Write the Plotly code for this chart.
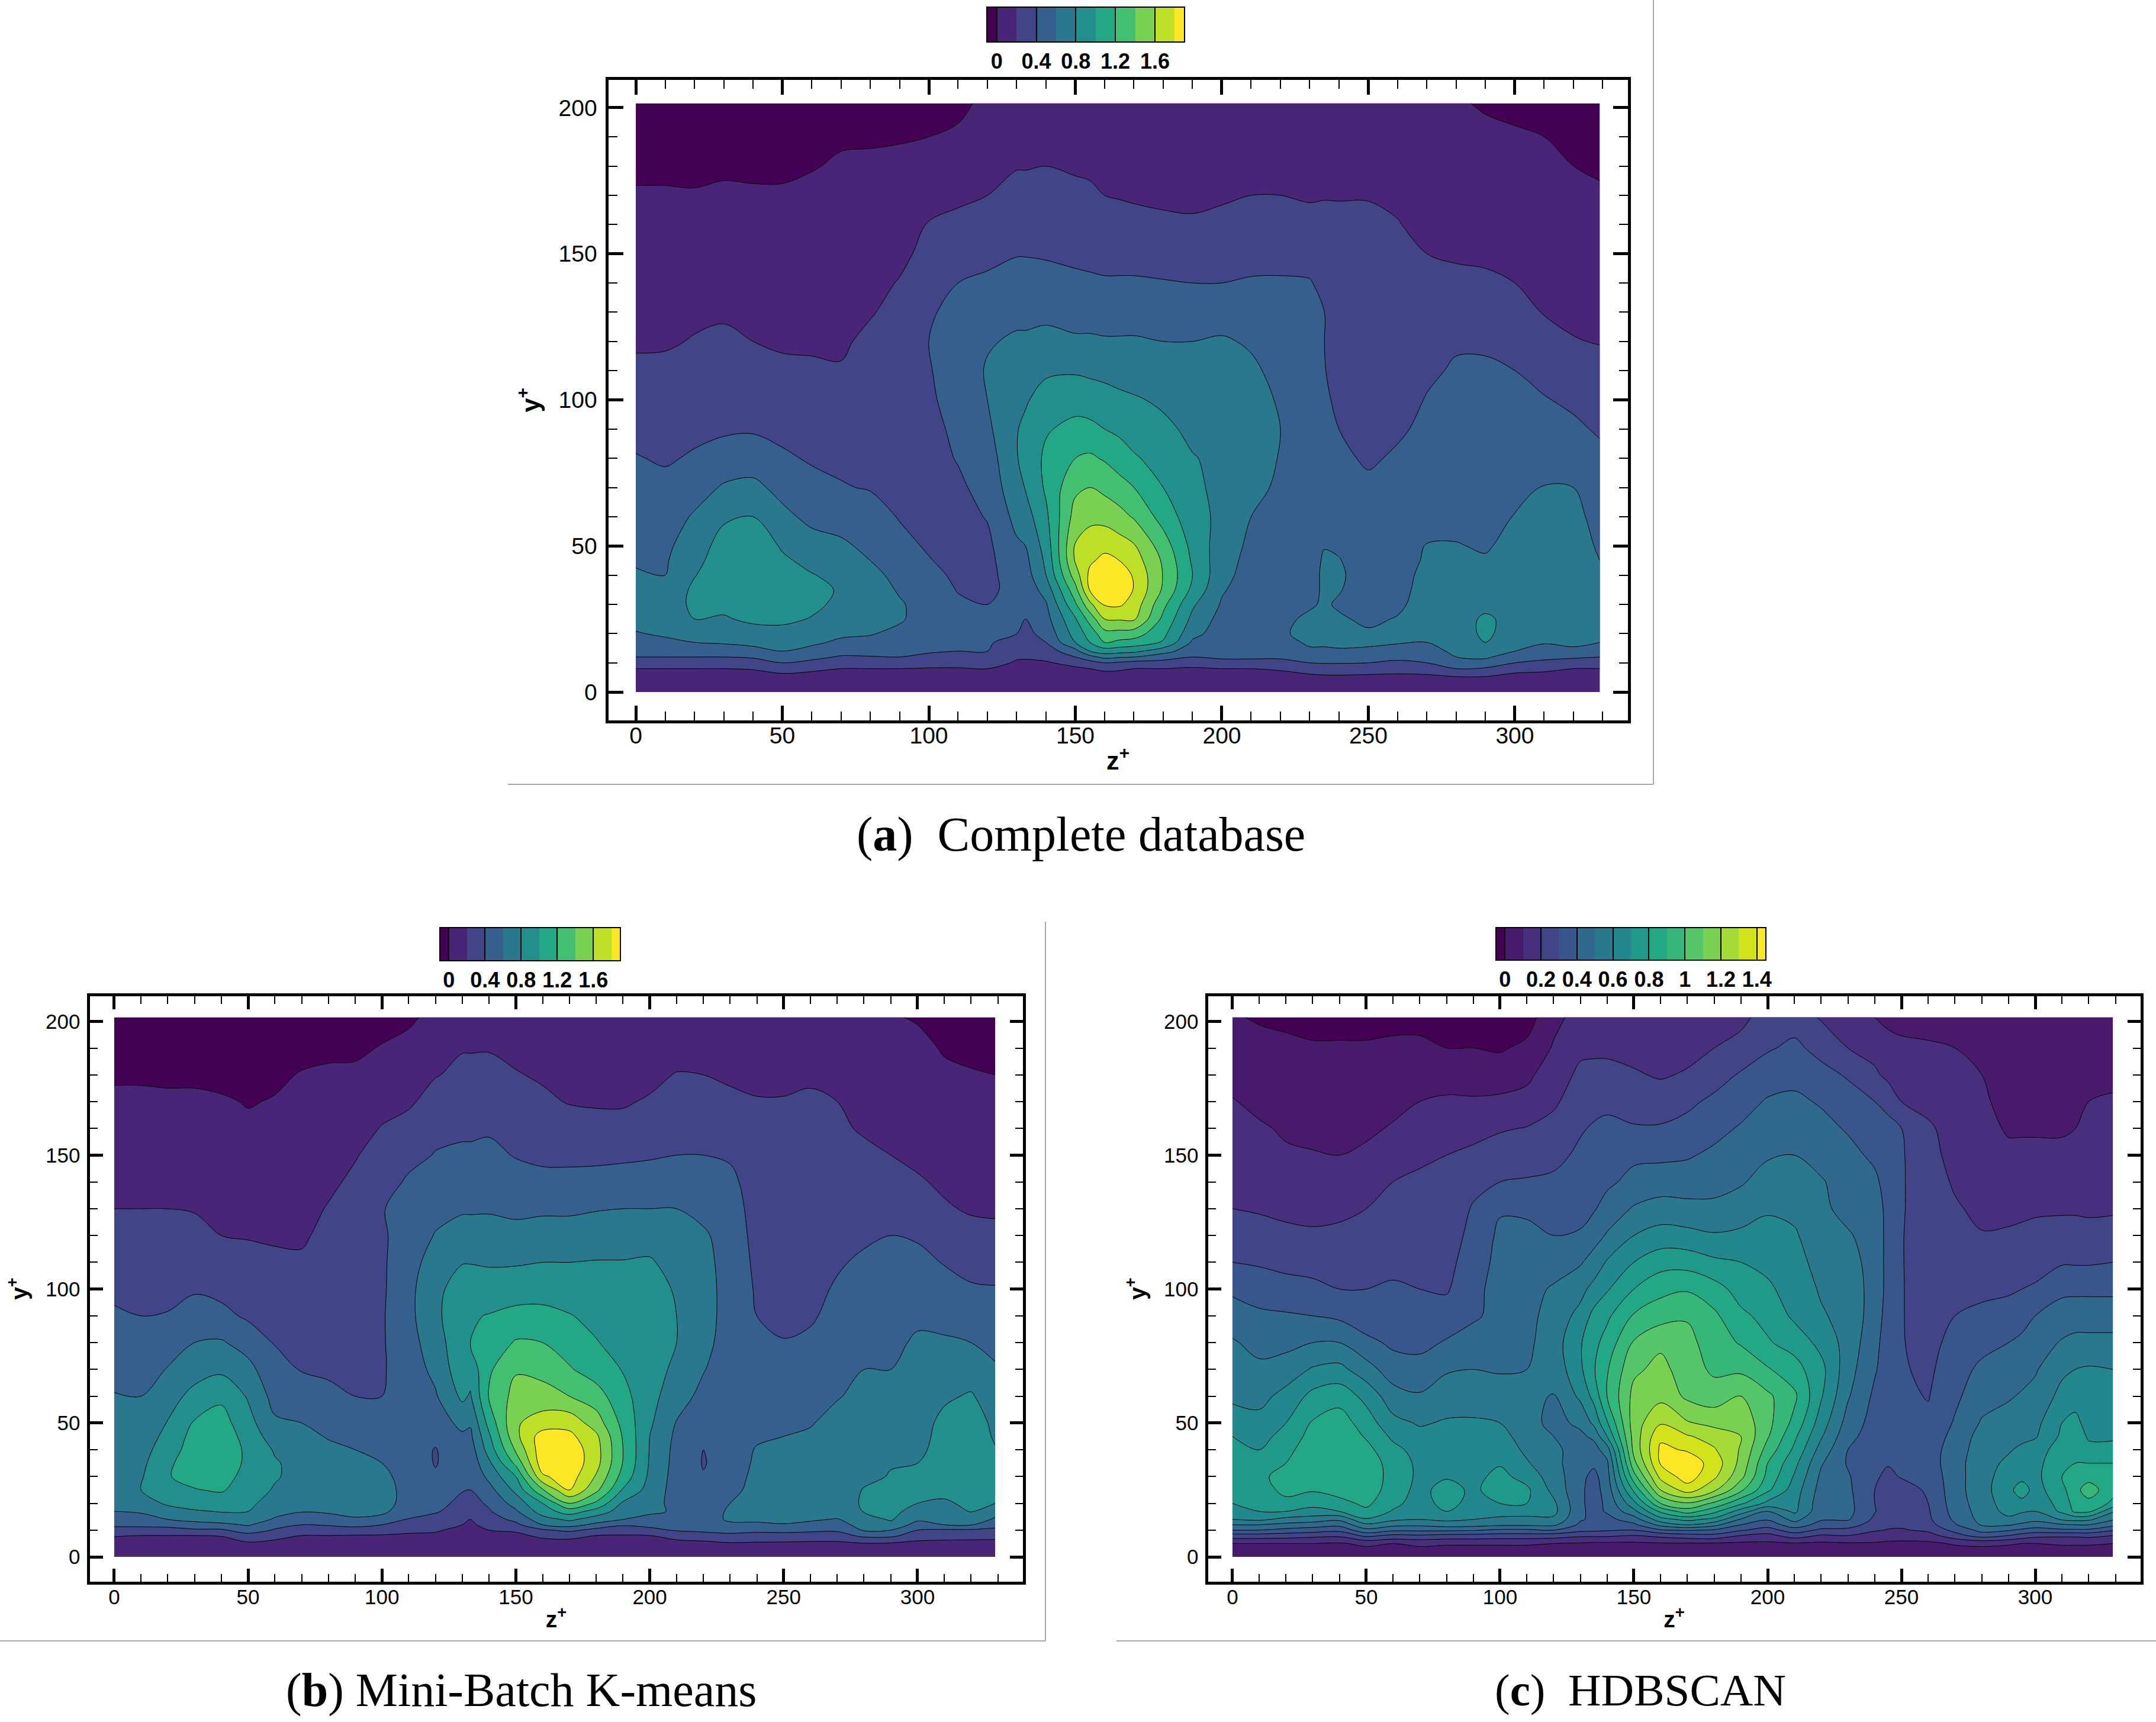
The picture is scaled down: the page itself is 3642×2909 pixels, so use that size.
#!/usr/bin/env python
"""
Three contour panels of y+ against z+ with their colour bars and captions.
"""

import plotly.graph_objects as go

WIDTH = 3642
HEIGHT = 2909

# Wall-normal rows shared by the three tables
y_rows = [0, 5, 8, 10, 12, 14, 17, 20, 25, 30, 35, 40, 45, 50, 60, 70, 80, 90, 100, 110,
          120, 130, 140, 150, 160, 170, 180, 190, 201.5]

x_ticks = [0, 50, 100, 150, 200, 250, 300]
y_ticks = [0, 50, 100, 150, 200]

viridis_11 = ["#440154", "#482576", "#414487", "#35608d", "#2a788e", "#21908d",
              "#22a884", "#43bf71", "#7ad151", "#bddf26", "#fde725"]
viridis_16 = ["#440154", "#481a6c", "#472f7d", "#414487", "#39568c", "#31688e", "#2a788e", "#23888e",
              "#1f998a", "#22a884", "#35b779", "#54c568", "#7ad151", "#a5db36", "#d2e21b", "#fde725"]

# (a) Complete database: one list per z column, read from bottom to top
z_a = [0, 10, 20, 30, 40, 50, 60, 70, 80, 90, 100, 110, 120, 130, 133, 140, 150, 155, 160, 165, 170, 180, 190, 200,
       210, 220, 230, 235, 240, 250, 260, 270, 280, 290, 300, 310, 320, 329]
field_a = [
    [.05, .13, .2, .3, .4, .45, .52, .59, .65, .68, .66, .62, .58, .56, .51, .46, .41, .35, .3, .23, .18, .15, .12, .09, .05, .01, -.02, -.05, -.08],
    [.05, .13, .2, .3, .4, .45, .57, .62, .66, .67, .65, .6, .58, .56, .51, .45, .38, .33, .28, .24, .18, .15, .12, .09, .05, .01, -.02, -.05, -.09],
    [.05, .13, .2, .3, .4, .47, .6, .68, .8, .85, .84, .79, .74, .7, .62, .52, .42, .36, .31, .26, .21, .17, .13, .1, .06, .01, -.03, -.06, -.1],
    [.05, .13, .2, .3, .4, .5, .62, .69, .78, .85, .9, .93, .91, .88, .77, .62, .49, .37, .32, .27, .23, .18, .14, .1, .07, .02, -.02, -.05, -.1],
    [.05, .13, .21, .32, .42, .55, .64, .72, .84, .9, .95, .97, .96, .92, .8, .65, .5, .38, .31, .26, .2, .16, .13, .1, .06, .02, -.03, -.06, -.1],
    [.05, .15, .26, .4, .5, .6, .66, .74, .84, .9, .93, .88, .83, .78, .65, .54, .43, .35, .29, .23, .18, .15, .12, .09, .05, .02, -.03, -.06, -.1],
    [.05, .14, .23, .35, .45, .55, .63, .7, .79, .84, .86, .81, .75, .68, .55, .46, .38, .33, .28, .22, .18, .15, .12, .09, .07, .04, -.01, -.05, -.1],
    [.05, .13, .2, .3, .38, .47, .57, .63, .7, .76, .78, .75, .68, .63, .53, .41, .37, .32, .27, .21, .18, .15, .12, .1, .07, .05, .02, -.02, -.08],
    [.05, .13, .2, .3, .39, .46, .56, .61, .65, .7, .7, .66, .6, .56, .47, .39, .36, .33, .3, .27, .23, .19, .15, .12, .09, .06, .03, -.02, -.08],
    [.05, .13, .2, .3, .4, .44, .5, .56, .62, .62, .58, .54, .48, .45, .39, .36, .34, .32, .3, .28, .26, .24, .21, .16, .11, .07, .03, -.01, -.08],
    [.05, .12, .19, .26, .36, .42, .46, .49, .52, .52, .5, .46, .41, .38, .36, .35, .34, .36, .38, .39, .4, .38, .3, .25, .21, .14, .06, 0, -.08],
    [.05, .12, .19, .25, .33, .4, .43, .45, .45, .43, .39, .36, .34, .33, .34, .37, .41, .43, .45, .47, .48, .45, .4, .31, .24, .17, .07, .02, -.03],
    [.05, .12, .2, .27, .34, .4, .42, .43, .42, .4, .36, .35, .35, .36, .41, .46, .5, .56, .6, .62, .58, .52, .45, .33, .26, .2, .14, .08, .03],
    [.06, .12, .16, .18, .22, .26, .33, .4, .42, .44, .46, .49, .53, .57, .66, .74, .79, .79, .75, .7, .63, .55, .48, .39, .33, .26, .19, .13, .08],
    [.06, .1, .14, .17, .22, .25, .3, .35, .4, .44, .47, .51, .55, .6, .71, .81, .86, .84, .78, .71, .63, .55, .48, .39, .33, .26, .19, .13, .08],
    [.06, .12, .16, .18, .25, .3, .4, .46, .53, .58, .68, .8, .84, .88, .96, 1.03, 1.04, .98, .88, .77, .65, .56, .47, .38, .31, .25, .2, .13, .08],
    [.06, .12, .17, .26, .4, .53, .8, .88, .98, 1.17, 1.33, 1.5, 1.62, 1.62, 1.48, 1.36, 1.2, 1.06, .92, .78, .63, .52, .44, .36, .3, .24, .18, .13, .08],
    [.06, .13, .2, .32, .53, .8, 1.0, 1.08, 1.28, 1.55, 1.82, 1.85, 1.77, 1.7, 1.55, 1.4, 1.23, 1.06, .88, .77, .63, .52, .43, .35, .29, .23, .17, .12, .08],
    [.06, .13, .23, .4, .66, .9, 1.2, 1.33, 1.6, 1.82, 1.97, 1.97, 1.85, 1.75, 1.53, 1.35, 1.18, 1.0, .87, .75, .62, .51, .42, .34, .27, .2, .16, .12, .08],
    [.06, .13, .22, .37, .62, .88, 1.15, 1.33, 1.62, 1.83, 1.92, 1.9, 1.8, 1.69, 1.47, 1.28, 1.1, .96, .84, .73, .62, .51, .42, .34, .26, .19, .14, .11, .07],
    [.06, .13, .2, .33, .6, .85, 1.12, 1.3, 1.63, 1.72, 1.79, 1.78, 1.7, 1.62, 1.38, 1.2, 1.03, .88, .82, .71, .62, .52, .42, .34, .25, .18, .13, .1, .07],
    [.06, .13, .2, .33, .48, .68, .98, 1.05, 1.15, 1.25, 1.37, 1.39, 1.37, 1.3, 1.12, 1.0, .9, .84, .77, .68, .6, .5, .41, .33, .24, .16, .11, .08, .05],
    [.06, .13, .18, .27, .4, .48, .57, .66, .75, .83, .95, 1.0, .97, .94, .88, .84, .81, .76, .71, .65, .6, .5, .4, .32, .23, .15, .1, .07, .05],
    [.06, .13, .2, .36, .42, .44, .47, .5, .53, .58, .62, .66, .68, .7, .75, .75, .76, .75, .72, .68, .62, .52, .4, .34, .26, .17, .11, .07, .05],
    [.06, .13, .2, .38, .41, .42, .43, .44, .46, .48, .5, .52, .54, .56, .6, .65, .68, .68, .67, .63, .58, .49, .42, .33, .27, .2, .13, .08, .05],
    [.06, .13, .22, .38, .41, .47, .55, .58, .56, .5, .48, .5, .52, .53, .55, .57, .59, .6, .58, .55, .51, .47, .42, .34, .27, .2, .13, .08, .05],
    [.06, .15, .28, .4, .47, .58, .62, .64, .63, .58, .54, .52, .5, .49, .47, .47, .47, .47, .47, .46, .45, .43, .41, .34, .26, .18, .12, .08, .05],
    [.06, .16, .3, .41, .47, .58, .62, .63, .63, .62, .63, .64, .63, .59, .49, .46, .46, .47, .44, .41, .4, .4, .36, .31, .25, .19, .12, .08, .05],
    [.06, .16, .31, .41, .48, .59, .62, .63, .62, .58, .61, .63, .61, .57, .5, .46, .43, .4, .35, .31, .29, .26, .25, .23, .22, .195, .12, .08, .05],
    [.06, .15, .3, .4, .47, .58, .62, .62, .57, .54, .52, .5, .49, .48, .46, .43, .38, .34, .3, .28, .27, .25, .24, .23, .22, .195, .12, .07, .04],
    [.06, .15, .27, .36, .45, .55, .61, .63, .61, .57, .54, .52, .5, .49, .47, .45, .42, .38, .33, .3, .28, .26, .25, .23, .21, .16, .1, .06, .03],
    [.06, .15, .3, .4, .47, .53, .6, .64, .66, .67, .67, .66, .63, .61, .53, .49, .46, .43, .41, .37, .32, .27, .23, .2, .14, .1, .07, .04, .02],
    [.06, .18, .4, .5, .6, .64, .67, .7, .72, .72, .7, .67, .64, .61, .54, .5, .47, .45, .43, .42, .38, .31, .24, .18, .13, .09, .06, .04, .01],
    [.07, .18, .37, .55, .62, .68, .8, .84, .83, .75, .7, .66, .62, .58, .52, .49, .47, .46, .44, .42, .38, .31, .23, .17, .12, .08, .05, .02, -.01],
    [.06, .14, .26, .4, .53, .6, .65, .7, .74, .74, .73, .71, .68, .66, .61, .53, .48, .45, .42, .4, .34, .27, .2, .14, .1, .07, .04, .01, -.02],
    [.05, .13, .24, .35, .45, .55, .61, .64, .66, .68, .69, .7, .7, .69, .65, .61, .51, .45, .41, .35, .28, .19, .14, .1, .07, .04, .02, 0, -.04],
    [.05, .13, .2, .3, .43, .58, .62, .64, .66, .68, .69, .69, .68, .67, .65, .6, .5, .43, .37, .31, .21, .16, .12, .09, .06, .03, 0, -.02, -.05],
    [.05, .13, .2, .3, .4, .52, .6, .62, .63, .64, .64, .62, .6, .58, .54, .49, .44, .38, .33, .27, .19, .15, .11, .08, .05, .02, -.02, -.04, -.06],
]

# (b) Mini-Batch K-means
z_b = [0, 10, 20, 30, 40, 50, 60, 70, 80, 90, 100, 110, 120, 130, 133, 140, 150, 160, 170, 180, 190, 200,
       210, 220, 230, 240, 250, 260, 270, 280, 290, 300, 310, 320, 329]
field_b = [
    [.05, .14, .21, .33, .44, .52, .6, .66, .73, .78, .8, .8, .77, .72, .61, .54, .48, .42, .37, .31, .25, .2, .15, .11, .07, .03, -.02, -.05, -.09],
    [.05, .13, .2, .32, .45, .53, .62, .7, .8, .78, .75, .72, .68, .65, .6, .52, .46, .4, .35, .29, .24, .2, .15, .11, .07, .03, -.02, -.05, -.09],
    [.05, .13, .2, .32, .47, .6, .72, .83, .93, .99, .97, .91, .86, .81, .72, .61, .5, .41, .35, .3, .25, .2, .16, .12, .08, .03, -.03, -.06, -.1],
    [.05, .13, .2, .37, .52, .66, .78, .88, .99, 1.06, 1.09, 1.09, 1.07, 1.02, .86, .72, .6, .48, .38, .31, .25, .19, .15, .11, .07, .03, -.03, -.06, -.1],
    [.05, .13, .21, .37, .55, .7, .81, .9, 1.02, 1.08, 1.12, 1.13, 1.12, 1.08, .96, .76, .62, .45, .35, .27, .2, .17, .14, .11, .07, .02, -.05, -.08, -.12],
    [.05, .17, .33, .5, .62, .7, .8, .85, .9, .93, .96, .96, .92, .87, .78, .66, .52, .37, .31, .25, .19, .15, .11, .08, .03, -.01, -.05, -.08, -.12],
    [.05, .15, .26, .38, .47, .58, .66, .7, .78, .82, .82, .78, .7, .63, .53, .46, .39, .33, .28, .23, .18, .15, .12, .09, .06, .01, -.03, -.07, -.11],
    [.05, .13, .2, .3, .4, .5, .61, .66, .7, .73, .73, .69, .64, .6, .49, .39, .35, .31, .26, .22, .18, .15, .13, .1, .07, .04, .01, -.05, -.1],
    [.05, .13, .2, .3, .42, .54, .62, .67, .7, .7, .68, .63, .59, .54, .43, .38, .34, .31, .29, .27, .24, .21, .17, .13, .09, .06, .03, -.04, -.09],
    [.05, .12, .19, .31, .46, .58, .65, .68, .7, .68, .65, .6, .55, .5, .4, .37, .35, .33, .31, .3, .28, .26, .23, .19, .13, .08, .03, -.03, -.08],
    [.05, .12, .19, .28, .4, .52, .65, .69, .68, .65, .6, .56, .5, .45, .4, .38, .38, .38, .37, .37, .37, .39, .31, .26, .21, .14, .06, .01, -.06],
    [.05, .12, .18, .23, .3, .39, .46, .51, .53, .52, .5, .49, .48, .48, .48, .5, .53, .55, .55, .53, .5, .47, .43, .34, .27, .17, .12, .05, -.03],
    [.05, .11, .17, .22, .28, .33, .42, .46, .45, .42, .39, .39, .44, .5, .58, .65, .7, .75, .74, .68, .61, .55, .47, .41, .35, .28, .19, .13, .05],
    [.06, .1, .13, .15, .2, .24, .31, .35, .41, .46, .5, .53, .57, .65, .84, .93, .96, .96, .91, .79, .67, .58, .5, .43, .37, .31, .24, .19, .12],
    [.06, .09, .12, .14, .17, .2, .27, .33, .4, .44, .47, .5, .56, .62, .78, .88, 1.0, .98, .93, .79, .67, .58, .5, .43, .37, .31, .24, .19, .12],
    [.06, .11, .16, .2, .26, .31, .38, .43, .53, .65, .76, .89, .97, 1.07, 1.22, 1.17, 1.07, 1.01, .89, .78, .68, .58, .51, .44, .38, .32, .25, .19, .12],
    [.06, .12, .17, .22, .35, .45, .57, .68, .85, 1.0, 1.25, 1.43, 1.55, 1.58, 1.47, 1.38, 1.22, 1.05, .92, .78, .66, .56, .47, .39, .33, .27, .21, .16, .1],
    [.06, .14, .23, .37, .6, .72, .9, 1.0, 1.38, 1.77, 1.92, 1.93, 1.9, 1.68, 1.5, 1.32, 1.2, 1.05, .93, .8, .68, .57, .44, .37, .3, .23, .18, .14, .09],
    [.06, .14, .25, .45, .68, .84, 1.1, 1.4, 1.8, 1.9, 1.95, 1.93, 1.85, 1.73, 1.4, 1.22, 1.1, 1.01, .9, .8, .68, .57, .45, .36, .28, .19, .15, .11, .07],
    [.06, .13, .2, .33, .55, .7, .92, 1.16, 1.45, 1.58, 1.67, 1.68, 1.64, 1.5, 1.29, 1.1, 1.01, .95, .88, .81, .69, .59, .46, .36, .26, .18, .13, .1, .06],
    [.06, .13, .19, .3, .42, .6, .7, .77, .98, 1.12, 1.19, 1.2, 1.18, 1.14, 1.06, .99, .93, .88, .85, .81, .7, .6, .47, .37, .26, .18, .13, .09, .06],
    [.06, .13, .2, .35, .45, .55, .63, .67, .72, .76, .78, .79, .8, .83, .87, .9, .91, .91, .88, .82, .72, .6, .49, .38, .3, .22, .15, .1, .06],
    [.06, .14, .27, .42, .5, .6, .58, .54, .52, .52, .53, .54, .56, .59, .68, .75, .8, .8, .78, .73, .66, .6, .5, .4, .33, .27, .21, .12, .07],
    [.06, .15, .31, .45, .47, .48, .49, .48, .45, .41, .39, .4, .44, .47, .55, .61, .66, .68, .68, .66, .63, .54, .47, .4, .33, .27, .2, .13, .07],
    [.06, .18, .36, .46, .55, .64, .63, .6, .54, .5, .47, .46, .46, .47, .48, .5, .51, .52, .52, .52, .51, .48, .44, .38, .31, .24, .17, .12, .07],
    [.06, .17, .34, .44, .57, .63, .65, .66, .67, .66, .64, .62, .56, .52, .48, .45, .42, .4, .38, .36, .34, .33, .32, .28, .25, .21, .16, .11, .07],
    [.06, .17, .33, .46, .59, .64, .66, .67, .67, .66, .65, .62, .6, .56, .5, .45, .41, .35, .31, .29, .27, .26, .25, .24, .23, .21, .16, .11, .07],
    [.06, .16, .32, .44, .56, .62, .65, .66, .67, .67, .66, .64, .62, .59, .52, .47, .43, .38, .35, .32, .29, .27, .26, .25, .24, .22, .18, .12, .07],
    [.06, .16, .32, .43, .52, .59, .66, .68, .7, .7, .7, .69, .67, .65, .59, .53, .49, .45, .42, .38, .33, .28, .26, .25, .23, .2, .13, .08, .04],
    [.06, .19, .45, .62, .68, .72, .81, .83, .81, .76, .74, .73, .71, .69, .64, .6, .52, .48, .46, .43, .37, .31, .27, .24, .18, .14, .1, .06, .03],
    [.06, .18, .45, .6, .74, .82, .86, .87, .85, .81, .79, .76, .73, .7, .65, .6, .55, .5, .47, .44, .4, .33, .27, .2, .16, .11, .08, .05, .01],
    [.06, .15, .3, .4, .53, .63, .72, .8, .84, .84, .8, .76, .74, .72, .69, .66, .63, .56, .5, .45, .38, .31, .22, .16, .12, .09, .06, .03, -.01],
    [.05, .14, .28, .37, .6, .65, .72, .78, .84, .87, .88, .87, .86, .85, .77, .68, .62, .55, .47, .39, .29, .22, .17, .12, .08, .05, .02, -.01, -.05],
    [.05, .14, .27, .37, .61, .72, .81, .83, .86, .88, .9, .9, .9, .89, .82, .7, .6, .5, .42, .34, .26, .18, .14, .11, .08, .05, .01, -.03, -.07],
    [.05, .14, .26, .36, .46, .57, .68, .8, .83, .83, .82, .81, .78, .76, .69, .62, .55, .47, .41, .34, .25, .17, .13, .1, .07, .04, 0, -.04, -.07],
]

# (c) HDBSCAN
z_c = [0, 10, 20, 30, 40, 50, 60, 70, 80, 90, 100, 110, 120, 130, 135, 140, 150, 160, 170, 180, 190, 200,
       210, 220, 230, 240, 245, 250, 260, 270, 280, 290, 295, 300, 310, 315, 320, 329]
field_c = [
    [.03, .1, .26, .4, .5, .6, .66, .7, .73, .75, .75, .73, .7, .65, .58, .54, .51, .45, .38, .3, .25, .2, .18, .16, .13, .105, .07, .04, .01],
    [.03, .1, .26, .4, .5, .62, .7, .72, .75, .77, .74, .7, .67, .63, .57, .52, .47, .42, .35, .29, .24, .19, .17, .14, .11, .08, .06, .03, -.01],
    [.03, .1, .25, .37, .47, .57, .7, .77, .83, .85, .8, .77, .73, .7, .63, .55, .47, .41, .34, .27, .22, .18, .15, .11, .09, .07, .05, .02, -.02],
    [.03, .1, .23, .35, .45, .55, .67, .73, .81, .85, .86, .86, .84, .81, .73, .61, .5, .4, .32, .27, .21, .18, .14, .105, .08, .06, .04, .01, -.03],
    [.03, .09, .22, .33, .43, .52, .7, .77, .84, .87, .88, .88, .87, .85, .76, .63, .5, .38, .3, .26, .22, .18, .14, .1, .08, .06, .04, .01, -.03],
    [.03, .12, .33, .47, .58, .69, .78, .82, .86, .87, .87, .83, .79, .75, .67, .54, .43, .33, .3, .26, .23, .2, .17, .12, .08, .06, .04, .01, -.03],
    [.03, .1, .28, .42, .53, .62, .69, .73, .75, .76, .75, .73, .68, .63, .54, .45, .38, .34, .31, .28, .25, .22, .2, .15, .11, .07, .05, .02, -.03],
    [.03, .12, .29, .42, .52, .6, .63, .65, .67, .68, .68, .66, .63, .59, .51, .44, .37, .33, .3, .27, .25, .23, .21, .19, .14, .1, .07, .02, -.03],
    [.03, .11, .27, .42, .55, .62, .7, .74, .74, .69, .67, .65, .63, .61, .55, .49, .41, .34, .29, .27, .25, .23, .22, .2, .17, .11, .07, 0, -.04],
    [.03, .11, .27, .41, .54, .6, .63, .66, .68, .67, .66, .64, .62, .61, .56, .5, .43, .39, .37, .35, .33, .31, .27, .22, .17, .11, .06, 0, -.04],
    [.03, .11, .26, .38, .52, .58, .64, .7, .75, .73, .69, .66, .63, .6, .55, .49, .46, .42, .44, .43, .42, .39, .3, .25, .19, .12, .05, -.01, -.05],
    [.03, .11, .26, .38, .52, .58, .63, .7, .72, .66, .61, .58, .56, .54, .52, .5, .48, .47, .47, .46, .43, .38, .31, .25, .205, .13, .08, .02, -.04],
    [.03, .1, .25, .4, .52, .58, .63, .62, .57, .55, .53, .52, .5, .47, .495, .53, .55, .54, .51, .46, .4, .36, .32, .27, .23, .185, .15, .11, .07],
    [.03, .09, .22, .33, .38, .41, .42, .42, .42, .43, .44, .46, .48, .52, .62, .68, .69, .63, .57, .49, .41, .37, .35, .32, .29, .25, .22, .18, .14],
    [.03, .08, .22, .32, .35, .38, .37, .36, .36, .37, .42, .46, .52, .62, .73, .79, .77, .73, .63, .54, .46, .39, .36, .34, .31, .27, .23, .18, .15],
    [.03, .08, .22, .31, .34, .37, .41, .42, .44, .46, .48, .55, .7, .79, .9, .89, .84, .78, .69, .61, .51, .44, .38, .35, .32, .28, .23, .18, .15],
    [.03, .08, .2, .3, .38, .45, .57, .67, .82, .96, 1.07, 1.13, 1.14, 1.15, 1.13, 1.08, 1.01, .91, .8, .7, .6, .51, .43, .38, .31, .25, .21, .17, .12],
    [.03, .09, .23, .39, .53, .66, .82, 1.0, 1.2, 1.33, 1.41, 1.42, 1.38, 1.29, 1.17, 1.13, 1.08, .96, .87, .76, .64, .54, .45, .38, .31, .25, .19, .16, .12],
    [.03, .09, .26, .41, .6, .73, .95, 1.09, 1.35, 1.45, 1.46, 1.39, 1.31, 1.21, 1.08, 1.05, 1.03, .99, .89, .76, .63, .53, .45, .39, .33, .28, .21, .17, .14],
    [.03, .09, .27, .39, .53, .67, .83, .98, 1.22, 1.32, 1.36, 1.31, 1.26, 1.17, 1.05, .98, .95, .92, .84, .72, .61, .52, .47, .42, .37, .32, .26, .2, .16],
    [.03, .08, .2, .31, .4, .49, .65, .82, 1.02, 1.13, 1.17, 1.19, 1.2, 1.17, 1.1, .98, .89, .82, .76, .7, .62, .55, .49, .45, .41, .36, .31, .24, .17],
    [.03, .08, .17, .26, .34, .41, .5, .67, .82, .87, .9, .96, 1.01, 1.03, 1.02, .91, .81, .77, .72, .67, .63, .59, .54, .49, .44, .41, .35, .29, .25],
    [.03, .09, .25, .35, .46, .53, .62, .63, .65, .69, .73, .78, .82, .87, .92, .84, .76, .68, .65, .63, .61, .58, .54, .5, .46, .42, .37, .32, .26],
    [.03, .08, .19, .28, .36, .41, .43, .44, .46, .48, .51, .56, .61, .65, .71, .73, .67, .61, .59, .57, .55, .52, .51, .46, .43, .39, .33, .27, .19],
    [.03, .09, .2, .27, .35, .41, .43, .43, .42, .41, .39, .4, .43, .46, .51, .54, .56, .57, .56, .54, .51, .47, .45, .43, .39, .34, .29, .2, .13],
    [.03, .09, .16, .21, .25, .28, .305, .3, .3, .31, .32, .33, .35, .36, .38, .41, .43, .45, .46, .46, .46, .45, .42, .38, .34, .3, .22, .16, .1],
    [.03, .08, .15, .195, .22, .24, .25, .26, .27, .285, .305, .31, .32, .33, .34, .35, .35, .36, .37, .37, .37, .37, .36, .34, .32, .28, .17, .13, .08],
    [.03, .08, .14, .19, .22, .23, .24, .25, .27, .305, .32, .33, .33, .33, .32, .31, .305, .305, .305, .305, .305, .31, .31, .31, .3, .2, .16, .12, .07],
    [.03, .08, .16, .22, .26, .28, .29, .3, .31, .33, .35, .35, .34, .32, .295, .28, .27, .26, .26, .25, .25, .24, .24, .23, .215, .17, .14, .11, .07],
    [.03, .11, .26, .33, .39, .42, .44, .45, .46, .46, .46, .45, .43, .41, .38, .36, .33, .3, .28, .25, .23, .21, .19, .17, .16, .14, .12, .1, .06],
    [.03, .12, .35, .43, .51, .53, .54, .55, .56, .56, .56, .55, .54, .51, .46, .42, .37, .32, .28, .24, .205, .18, .16, .14, .13, .11, .1, .07, .03],
    [.03, .11, .3, .41, .51, .58, .63, .65, .67, .65, .62, .59, .56, .54, .49, .44, .4, .33, .29, .25, .21, .18, .15, .12, .09, .08, .07, .05, .02],
    [.03, .1, .26, .38, .48, .55, .61, .67, .75, .67, .64, .62, .575, .55, .51, .465, .42, .365, .3, .26, .215, .185, .155, .12, .09, .08, .065, .04, .015],
    [.03, .1, .23, .36, .45, .53, .6, .63, .66, .67, .66, .65, .59, .57, .53, .49, .45, .4, .31, .27, .22, .19, .16, .12, .09, .08, .06, .03, .01],
    [.03, .11, .22, .38, .49, .61, .72, .74, .77, .8, .79, .75, .72, .7, .63, .58, .51, .44, .38, .29, .23, .19, .16, .12, .09, .07, .06, .03, .01],
    [.03, .11, .22, .38, .5, .63, .82, .84, .87, .85, .8, .76, .74, .72, .67, .6, .53, .45, .38, .29, .23, .19, .16, .13, .1, .09, .07, .05, .02],
    [.03, .11, .23, .38, .5, .62, .82, .87, .95, .86, .8, .72, .69, .67, .64, .61, .53, .45, .38, .29, .22, .19, .16, .14, .12, .1, .08, .06, .04],
    [.03, .1, .2, .31, .43, .51, .61, .78, .83, .82, .8, .72, .69, .67, .64, .6, .53, .45, .38, .3, .23, .19, .17, .15, .13, .11, .08, .05, .02],
]


def paper_x(px):
    return px / WIDTH


def paper_y(px):
    return 1 - px / HEIGHT


def add_panel(fig, n, zs, field, start, end, size, colours, ticks, cbar_box):
    """Add the filled contours, the contour lines and the colour bar of one panel."""
    left, top, right, bottom = cbar_box
    common = dict(x=zs, y=y_rows, z=field, transpose=True, xaxis="x" + n, yaxis="y" + n,
                  contours=dict(start=start, end=end, size=size))
    fig.add_trace(go.Contour(
        **common,
        colorscale=[[i / (len(colours) - 1), c] for i, c in enumerate(colours)],
        line=dict(width=0),
        contours_coloring="fill",
        contours_showlines=False,
        colorbar=dict(
            orientation="h",
            x=paper_x(left), xanchor="left", xref="paper",
            y=paper_y(top), yanchor="top", yref="paper",
            len=right - left, lenmode="pixels",
            thickness=bottom - top, thicknessmode="pixels",
            xpad=0, ypad=0,
            outlinecolor="black", outlinewidth=2,
            ticks="inside", ticklen=bottom - top, tickwidth=2, tickcolor="black",
            tickmode="array", tickvals=ticks, ticktext=[f"{t:g}" for t in ticks],
            tickfont=dict(family="Liberation Sans", size=36, color="black", weight="bold"),
        ),
    ))
    fig.add_trace(go.Contour(
        **common,
        showscale=False,
        contours_coloring="none",
        line=dict(color="black", width=1),
    ))


def axis_style(box_start, box_end, span, rng, tick_list, title, font_size, major, minor, standoff, label_shift):
    return dict(
        domain=[box_start / span, box_end / span], range=rng,
        showline=True, linewidth=5, linecolor="black", mirror="allticks",
        ticks="inside", ticklen=major, tickwidth=5, tickcolor="black",
        tickmode="array", tickvals=tick_list, ticklabelstandoff=label_shift,
        tickfont=dict(family="Liberation Sans", size=font_size, color="black"),
        minor=dict(ticks="inside", ticklen=minor, tickwidth=2, tickcolor="black", dtick=10, showgrid=False),
        showgrid=False, zeroline=False,
        title=dict(text=f"<b>{title}<sup>+</sup></b>", standoff=standoff,
                   font=dict(family="Liberation Sans", size=font_size + 4, color="black")),
    )


fig = go.Figure()

add_panel(fig, "", z_a, field_a, 0, 1.8, 0.2, viridis_11, [0, 0.4, 0.8, 1.2, 1.6], (1667, 12, 2001, 71))
add_panel(fig, "2", z_b, field_b, 0, 1.8, 0.2, viridis_11, [0, 0.4, 0.8, 1.2, 1.6], (743, 1567, 1048, 1623))
add_panel(fig, "3", z_c, field_c, 0, 1.4, 0.1, viridis_16,
          [0, 0.2, 0.4, 0.6, 0.8, 1, 1.2, 1.4], (2527, 1567, 2983, 1622))

layout_axes = {}
# Frame boxes in pixels, inset by half the frame line so the line lands on the printed frame
boxes = [
    ("", 1027.5, 2749.5, 135, 1216.5, [-9.4, 338.5], [-9.6, 209.5], 39, 25, 15, -12, 6),
    ("2", 151.5, 1727.5, 1682.5, 2671.5, [-9.15, 339.25], [-9.15, 209.45], 35, 22, 13, -9, 4),
    ("3", 2040.5, 3615.5, 1682.5, 2671.5, [-9.15, 339.25], [-9.15, 209.45], 35, 22, 13, -9, 4),
]
for n, left, right, top, bottom, x_rng, y_rng, font_size, major, minor, x_shift, y_shift in boxes:
    x_ax = axis_style(left, right, WIDTH, x_rng, x_ticks, "z", font_size, major, minor, 8, x_shift)
    y_ax = axis_style(HEIGHT - bottom, HEIGHT - top, HEIGHT, y_rng, y_ticks, "y", font_size, major, minor, 20, y_shift)
    x_ax["anchor"] = "y" + n
    y_ax["anchor"] = "x" + n
    layout_axes["xaxis" + n] = x_ax
    layout_axes["yaxis" + n] = y_ax

# Thin grey crop lines left around the sub-figures
crop_lines = [
    (858, 1325, 2793, 1325), (2793, 0, 2793, 1325),
    (0, 2772, 1766, 2772), (1766, 1557, 1766, 2772),
    (1886, 2772, 3642, 2772),
]
shapes = [dict(type="line", xref="paper", yref="paper",
               x0=paper_x(a), y0=paper_y(b), x1=paper_x(c), y1=paper_y(d),
               line=dict(color="#a8a8a8", width=2)) for a, b, c, d in crop_lines]

captions = [
    ("(<b>a</b>)\u2002Complete database", 1826, 1410, 82),
    ("(<b>b</b>) Mini-Batch K-means", 880, 2855, 80),
    ("(<b>c</b>)\u2002HDBSCAN", 2771, 2855, 77),
]
annotations = [dict(text=t, xref="paper", yref="paper", x=paper_x(x), y=paper_y(y),
                    xanchor="center", yanchor="middle", showarrow=False,
                    font=dict(family="Liberation Serif", size=s, color="black"))
               for t, x, y, s in captions]

fig.update_layout(
    width=WIDTH, height=HEIGHT,
    margin=dict(l=0, r=0, t=0, b=0),
    paper_bgcolor="white", plot_bgcolor="white",
    showlegend=False,
    shapes=shapes, annotations=annotations,
    **layout_axes,
)

fig.write_html("out.html", config={"displayModeBar": False},
               post_script="document.body.style.margin = '0';")
